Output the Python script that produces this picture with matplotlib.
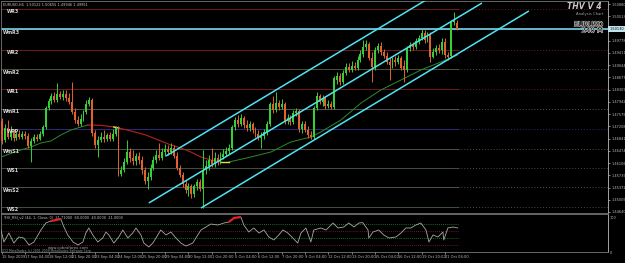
import matplotlib
matplotlib.use("Agg")
import matplotlib.pyplot as plt
import matplotlib.patheffects as pe
import numpy as np

# ---------------- data (EURUSD H4) ----------------
opens = [1.4737, 1.4680, 1.4716, 1.4689, 1.4704, 1.4686, 1.4698, 1.4689, 1.4698, 1.4692,
         1.4662, 1.4677, 1.4689, 1.4683, 1.4698, 1.4719, 1.4776, 1.4797, 1.4812, 1.4800,
         1.4818, 1.4809, 1.4818, 1.4806, 1.4794, 1.4764, 1.4740, 1.4728, 1.4743, 1.4764,
         1.4788, 1.4800, 1.4701, 1.4665, 1.4680, 1.4689, 1.4683, 1.4695, 1.4683, 1.4698,
         1.4716, 1.4578, 1.4590, 1.4614, 1.4644, 1.4626, 1.4617, 1.4632, 1.4620, 1.4590,
         1.4557, 1.4569, 1.4596, 1.4620, 1.4635, 1.4626, 1.4644, 1.4653, 1.4644, 1.4656,
         1.4632, 1.4596, 1.4575, 1.4548, 1.4530, 1.4542, 1.4518, 1.4542, 1.4554, 1.4533,
         1.4590, 1.4602, 1.4620, 1.4608, 1.4626, 1.4614, 1.4629, 1.4638, 1.4647, 1.4656,
         1.4719, 1.4740, 1.4728, 1.4746, 1.4725, 1.4716, 1.4728, 1.4710, 1.4698, 1.4686,
         1.4692, 1.4704, 1.4728, 1.4788, 1.4770, 1.4791, 1.4779, 1.4788, 1.4737, 1.4746,
         1.4734, 1.4761, 1.4767, 1.4713, 1.4728, 1.4710, 1.4695, 1.4689, 1.4776, 1.4812,
         1.4794, 1.4806, 1.4782, 1.4788, 1.4779, 1.4860, 1.4872, 1.4854, 1.4881, 1.4899,
         1.4890, 1.4902, 1.4896, 1.4920, 1.4938, 1.4959, 1.4968, 1.4926, 1.4899, 1.4950,
         1.4962, 1.4944, 1.4932, 1.4914, 1.4905, 1.4920, 1.4914, 1.4926, 1.4902, 1.4890,
         1.4956, 1.4965, 1.4959, 1.4977, 1.4986, 1.5001, 1.4980, 1.4995, 1.4929, 1.4944,
         1.4956, 1.4950, 1.4974, 1.4935, 1.4932, 1.5034, 1.5031]
closes = [1.4677, 1.4716, 1.4689, 1.4704, 1.4686, 1.4698, 1.4689, 1.4698, 1.4692, 1.4662,
          1.4677, 1.4689, 1.4683, 1.4698, 1.4719, 1.4776, 1.4797, 1.4812, 1.4800, 1.4818,
          1.4809, 1.4818, 1.4806, 1.4794, 1.4764, 1.4740, 1.4728, 1.4743, 1.4764, 1.4788,
          1.4800, 1.4701, 1.4665, 1.4680, 1.4689, 1.4683, 1.4695, 1.4683, 1.4698, 1.4716,
          1.4578, 1.4590, 1.4614, 1.4644, 1.4626, 1.4617, 1.4632, 1.4620, 1.4590, 1.4557,
          1.4569, 1.4596, 1.4620, 1.4635, 1.4626, 1.4644, 1.4653, 1.4644, 1.4656, 1.4632,
          1.4596, 1.4575, 1.4548, 1.4530, 1.4542, 1.4518, 1.4542, 1.4554, 1.4533, 1.4590,
          1.4602, 1.4620, 1.4608, 1.4626, 1.4614, 1.4629, 1.4638, 1.4647, 1.4656, 1.4719,
          1.4740, 1.4728, 1.4746, 1.4725, 1.4716, 1.4728, 1.4710, 1.4698, 1.4686, 1.4692,
          1.4704, 1.4728, 1.4788, 1.4770, 1.4791, 1.4779, 1.4788, 1.4737, 1.4746, 1.4734,
          1.4761, 1.4767, 1.4713, 1.4728, 1.4710, 1.4695, 1.4689, 1.4776, 1.4812, 1.4794,
          1.4806, 1.4782, 1.4788, 1.4779, 1.4866, 1.4872, 1.4854, 1.4881, 1.4899, 1.4890,
          1.4902, 1.4896, 1.4920, 1.4938, 1.4959, 1.4968, 1.4926, 1.4899, 1.4950, 1.4962,
          1.4944, 1.4932, 1.4914, 1.4905, 1.4920, 1.4914, 1.4926, 1.4896, 1.4890, 1.4956,
          1.4965, 1.4959, 1.4977, 1.4986, 1.5001, 1.4980, 1.4995, 1.4929, 1.4944, 1.4956,
          1.4950, 1.4974, 1.4935, 1.4929, 1.5034, 1.5040, 1.5013]
highs = [1.4746, 1.4728, 1.4740, 1.4722, 1.4713, 1.4707, 1.4710, 1.4707, 1.4707, 1.4701,
         1.4686, 1.4698, 1.4698, 1.4707, 1.4725, 1.4782, 1.4806, 1.4821, 1.4824, 1.4851,
         1.4827, 1.4830, 1.4830, 1.4821, 1.4854, 1.4776, 1.4752, 1.4758, 1.4770, 1.4800,
         1.4809, 1.4806, 1.4710, 1.4692, 1.4704, 1.4710, 1.4701, 1.4704, 1.4713, 1.4722,
         1.4722, 1.4602, 1.4626, 1.4680, 1.4656, 1.4650, 1.4641, 1.4644, 1.4632, 1.4599,
         1.4584, 1.4608, 1.4632, 1.4650, 1.4671, 1.4656, 1.4668, 1.4665, 1.4671, 1.4665,
         1.4644, 1.4605, 1.4584, 1.4560, 1.4551, 1.4548, 1.4548, 1.4563, 1.4563, 1.4650,
         1.4620, 1.4635, 1.4656, 1.4644, 1.4638, 1.4644, 1.4653, 1.4659, 1.4668, 1.4725,
         1.4749, 1.4755, 1.4758, 1.4752, 1.4740, 1.4737, 1.4734, 1.4719, 1.4710, 1.4704,
         1.4713, 1.4737, 1.4794, 1.4812, 1.4824, 1.4800, 1.4803, 1.4794, 1.4758, 1.4755,
         1.4770, 1.4776, 1.4773, 1.4737, 1.4737, 1.4722, 1.4707, 1.4782, 1.4824, 1.4818,
         1.4815, 1.4812, 1.4800, 1.4797, 1.4872, 1.4884, 1.4881, 1.4890, 1.4911, 1.4911,
         1.4917, 1.4914, 1.4932, 1.4950, 1.4980, 1.4980, 1.4974, 1.4944, 1.4959, 1.4971,
         1.4974, 1.4953, 1.4944, 1.4926, 1.4929, 1.4932, 1.4935, 1.4932, 1.4920, 1.4962,
         1.4974, 1.4974, 1.4986, 1.4995, 1.5016, 1.5010, 1.5004, 1.5004, 1.4956, 1.4965,
         1.4968, 1.4986, 1.4986, 1.4944, 1.5040, 1.5064, 1.5040]
lows = [1.4668, 1.4674, 1.4683, 1.4680, 1.4677, 1.4680, 1.4683, 1.4683, 1.4683, 1.4656,
        1.4614, 1.4671, 1.4677, 1.4680, 1.4692, 1.4713, 1.4770, 1.4788, 1.4794, 1.4794,
        1.4803, 1.4800, 1.4797, 1.4788, 1.4758, 1.4731, 1.4722, 1.4722, 1.4737, 1.4758,
        1.4782, 1.4692, 1.4656, 1.4629, 1.4674, 1.4674, 1.4677, 1.4677, 1.4677, 1.4692,
        1.4572, 1.4572, 1.4584, 1.4608, 1.4614, 1.4605, 1.4605, 1.4608, 1.4578, 1.4548,
        1.4533, 1.4560, 1.4590, 1.4611, 1.4620, 1.4620, 1.4632, 1.4635, 1.4638, 1.4626,
        1.4590, 1.4569, 1.4539, 1.4521, 1.4512, 1.4506, 1.4509, 1.4530, 1.4527, 1.4476,
        1.4578, 1.4590, 1.4599, 1.4599, 1.4605, 1.4608, 1.4623, 1.4632, 1.4638, 1.4650,
        1.4710, 1.4719, 1.4722, 1.4716, 1.4707, 1.4707, 1.4701, 1.4689, 1.4680, 1.4656,
        1.4683, 1.4695, 1.4722, 1.4761, 1.4764, 1.4770, 1.4773, 1.4728, 1.4728, 1.4725,
        1.4728, 1.4752, 1.4704, 1.4701, 1.4704, 1.4686, 1.4683, 1.4683, 1.4770, 1.4788,
        1.4782, 1.4773, 1.4776, 1.4773, 1.4773, 1.4848, 1.4845, 1.4848, 1.4875, 1.4884,
        1.4884, 1.4890, 1.4890, 1.4914, 1.4929, 1.4950, 1.4920, 1.4854, 1.4890, 1.4941,
        1.4935, 1.4926, 1.4908, 1.4860, 1.4896, 1.4902, 1.4908, 1.4890, 1.4854, 1.4884,
        1.4947, 1.4950, 1.4953, 1.4968, 1.4980, 1.4971, 1.4974, 1.4914, 1.4926, 1.4935,
        1.4941, 1.4938, 1.4926, 1.4920, 1.4926, 1.5025, 1.5010]

# weekly pivot levels
level_names = ["WR3", "WmR3", "WR2", "WmR2", "WR1", "WmR1", "WPP", "WmS1", "WS1", "WmS2", "WS2"]
level_values = [1.5073, 1.50115, 1.4950, 1.48915, 1.4833, 1.4773, 1.4713, 1.46545, 1.4596, 1.45375, 1.4479]

# colour-changing moving average (bar position, price)
ma_up1_bar = [-0.3, 6.5, 9.9, 13.4, 16.8, 20.2, 23.7, 27.1, 29.5]
ma_up1_val = [1.4629, 1.4650, 1.4659, 1.4671, 1.4677, 1.4695, 1.4710, 1.4719, 1.4725]
ma_dn_bar = [29.5, 34.0, 38.4, 40.1, 44.3, 49.4, 54.5, 58.0, 61.4, 64.8, 68.3, 71.7, 75.1]
ma_dn_val = [1.4725, 1.4724, 1.4719, 1.4716, 1.4707, 1.4695, 1.4677, 1.4665, 1.4656, 1.4644, 1.4629, 1.4620, 1.4614]
ma_turn_bar = [[38.4, 40.1], [75.1, 77.9]]
ma_turn_val = [[1.4719, 1.4716], [1.4614, 1.4614]]
ma_up2_bar = [77.9, 85.4, 92.3, 99.1, 106.0, 109.4, 116.3, 123.2, 130.0, 136.9, 143.7, 150.6, 156.4]
ma_up2_val = [1.4614, 1.4629, 1.4644, 1.4674, 1.4689, 1.4704, 1.4740, 1.4791, 1.4830, 1.4860, 1.4890, 1.4914, 1.4935]

# trend channel (start bar, end bar), (start price, end price)
channel_bars = [[56.3, 145.5], [50.4, 164.7], [68.3, 180.8]]
channel_vals = [[1.4632, 1.5100], [1.4491, 1.5091], [1.4476, 1.5067]]

# RSI sub-window
rsi_bar = [-0.3, 0.7, 2.4, 4.1, 5.8, 7.5, 9.3, 11.0, 13.4, 15.1,
           16.8, 20.2, 21.3, 22.6, 24.4, 26.1, 27.8, 28.8, 29.8, 31.2,
           32.9, 34.6, 35.7, 36.7, 38.4, 40.1, 41.5, 43.2, 44.9, 46.0,
           47.7, 48.7, 50.4, 51.8, 53.5, 54.5, 56.3, 58.0, 59.7, 61.4,
           63.1, 65.5, 67.2, 68.3, 70.0, 71.7, 74.1, 76.2, 77.9, 79.6,
           82.0, 83.0, 84.7, 86.4, 88.2, 89.9, 91.6, 93.3, 95.0, 96.4,
           98.1, 99.8, 101.5, 102.6, 104.3, 106.0, 107.0, 109.4, 111.2, 113.6,
           115.3, 117.3, 119.0, 120.8, 122.5, 123.8, 125.6, 125.9, 127.3, 129.3,
           131.0, 132.8, 135.2, 136.9, 138.6, 140.3, 142.0, 143.7, 145.5, 146.5,
           147.9, 149.6, 151.3, 151.6, 153.0, 154.7, 156.4]
rsi_val = [62.9, 28.6, 54.3, 25.7, 42.9, 40.0, 20.0, 28.6, 62.9, 82.9,
           88.6, 94.3, 71.4, 48.6, 28.6, 20.0, 28.6, 54.3, 68.6, 48.6,
           28.6, 40.0, 57.1, 48.6, 25.7, 42.9, 62.9, 40.0, 54.3, 68.6,
           48.6, 25.7, 14.3, 25.7, 48.6, 62.9, 48.6, 57.1, 40.0, 25.7,
           17.1, 25.7, 48.6, 62.9, 71.4, 80.0, 77.1, 82.9, 85.7, 97.1,
           100.0, 77.1, 57.1, 68.6, 54.3, 62.9, 42.9, 34.3, 48.6, 62.9,
           54.3, 40.0, 25.7, 54.3, 68.6, 28.6, 62.9, 68.6, 62.9, 82.9,
           68.6, 71.4, 82.9, 71.4, 82.9, 84.0, 62.9, 40.0, 57.1, 62.9,
           48.6, 40.0, 42.9, 54.3, 68.6, 68.6, 77.1, 82.9, 62.9, 28.6,
           48.6, 42.9, 57.1, 34.3, 68.6, 71.4, 68.6]
rsi_levels = [80, 60, 40, 20]
rsi_hot = 85

price_ticks = [1.50880, 1.50513, 1.49778, 1.49411, 1.49044, 1.48677, 1.48309, 1.47942,
               1.47575, 1.47208, 1.46841, 1.46474, 1.46106, 1.45739, 1.45372, 1.45005, 1.44640]
date_bars = [0, 8, 16, 24, 32, 40, 48, 56, 64, 72, 80, 88, 96, 104, 112, 120, 128, 136, 144, 152]
date_labels = ["15 Sep 2009", "17 Sep 04:00", "18 Sep 12:00", "21 Sep 20:00", "23 Sep 04:00",
               "24 Sep 12:00", "25 Sep 20:00", "29 Sep 04:00", "30 Sep 12:00", "1 Oct 20:00",
               "5 Oct 04:00", "6 Oct 12:00", "7 Oct 20:00", "9 Oct 04:00", "12 Oct 12:00",
               "13 Oct 20:00", "15 Oct 04:00", "16 Oct 12:00", "19 Oct 20:00", "21 Oct 04:00"]

# ---------------- styles ----------------
BG = "black"
GREEN = "#36d036"
RED = "#e2622c"
CYAN = "#4fe3f2"
AXC = "#bcbcbc"
level_colors = ["#6e1c1c", "#55606a", "#741a1a", "#4d5436", "#741a1a", "#555555",
                "#2c2c7a", "#4c5444", "#3f513f", "#525252", "#3f513f"]

W, H = 625, 263
fig = plt.figure(figsize=(W / 100, H / 100), dpi=100, facecolor=BG)


def box(x0, y0, x1, y1):
    return [x0 / W, 1 - y1 / H, (x1 - x0) / W, (y1 - y0) / H]


ax = fig.add_axes(box(1, 1, 608, 213))
axi = fig.add_axes(box(1, 214, 608, 252))
XMIN = -0.3
XMAX = XMIN + 607 / 2.915
n = len(closes)
idx = np.arange(n)
last = n - 0.5

for a in (ax, axi):
    a.set_facecolor(BG)
    a.set_xlim(XMIN, XMAX)
    for s in a.spines.values():
        s.set_color("#777777")
        s.set_linewidth(0.6)
    a.spines["right"].set_color(AXC)
ax.set_ylim(1.4461, 1.5097)
axi.set_ylim(0, 108.6)

# pivot levels
for name, v, colr in zip(level_names, level_values, level_colors):
    ax.plot([XMIN, last], [v, v], color=colr, lw=0.7, zorder=1)
    ax.plot([last, XMAX], [v, v], color=colr, lw=0.7, ls=(0, (1, 2)), zorder=1)
    xoff = 0.0038 if name.startswith("Wm") else 0.0099
    ax.text(xoff, v - 0.0009, name, transform=ax.get_yaxis_transform(), fontsize=3.4,
            fontweight="bold", color="#d8d8d8", va="center", ha="left", zorder=8)

# current price line
ax.axhline(closes[-1], color="#6cc6d6", lw=1.3, zorder=2)

# moving average
ax.plot(ma_up1_bar, ma_up1_val, color="#2d8a2d", lw=0.7, zorder=3)
ax.plot(ma_dn_bar, ma_dn_val, color="#b82222", lw=0.8, zorder=3)
ax.plot(ma_up2_bar, ma_up2_val, color="#2d8a2d", lw=0.7, zorder=3)
for xb, yv in zip(ma_turn_bar, ma_turn_val):
    ax.plot(xb, yv, color="#e6e040", lw=1.0, zorder=3)

# candles
o = np.array(opens); c = np.array(closes); h = np.array(highs); l = np.array(lows)
up = c >= o
cols = np.where(up, GREEN, RED)
ax.vlines(idx, l, h, colors=cols, linewidth=0.7, zorder=4)
ax.bar(idx, np.maximum(np.abs(c - o), 0.00012), bottom=np.minimum(o, c), width=0.66,
       color=cols, linewidth=0, zorder=5)

# channel
for xb, yv in zip(channel_bars, channel_vals):
    ax.plot(xb, yv, color=CYAN, lw=1.1, zorder=6, solid_capstyle="butt")

# price axis
ax.yaxis.tick_right()
ax.set_yticks(price_ticks)
ax.set_yticklabels([f"{v:.5f}" for v in price_ticks])
ax.tick_params(axis="y", colors=AXC, labelsize=2.5, length=1.5, width=0.5, pad=1.0)
ax.tick_params(axis="x", bottom=False, labelbottom=False)
ax.text(1.002, closes[-1], f"{closes[-1]:.5f}", transform=ax.get_yaxis_transform(),
        fontsize=2.5, color="black", va="center", ha="left", clip_on=False, zorder=10,
        bbox=dict(boxstyle="square,pad=0.25", fc="#bfe4ec", ec="none"))

# RSI window
for lv, colr in zip(rsi_levels, ["#2f8a2f", "#8a2222", "#2f8a2f", "#8a2222"]):
    axi.plot([XMIN, last], [lv, lv], color=colr, lw=0.6, ls=(0, (1, 1.5)), zorder=1)
axi.plot(rsi_bar, rsi_val, color="#a8a8a8", lw=0.6, zorder=3)
rb = np.array(rsi_bar); rv = np.array(rsi_val)
hot = rv >= rsi_hot
start = None
for i in range(len(rv) + 1):
    if i < len(rv) and hot[i]:
        if start is None:
            start = i
    else:
        if start is not None and i - start >= 2:
            axi.plot(rb[start:i], rv[start:i], color="#e02424", lw=1.6, zorder=4,
                     solid_capstyle="butt")
        start = None
axi.yaxis.tick_right()
axi.set_yticks([0, 100])
axi.set_yticklabels(["0", "100"])
axi.tick_params(axis="y", colors=AXC, labelsize=2.5, length=0, pad=1.5)
axi.set_xticks(date_bars)
axi.set_xticklabels(date_labels, ha="left")
axi.tick_params(axis="x", colors=AXC, labelsize=2.6, length=1.5, width=0.5, pad=1.0)
axi.text(0.004, 0.96, "THV_RSI_v2 (44, 1, Close, 0)  21.71000  60.0000  40.0000  21.0000",
         transform=axi.transAxes, fontsize=2.5, color="#c4c4c4", va="top", ha="left")

# texts
fig.text(3 / W, 1 - 4.5 / H, "EURUSD,H4  1.50122 1.50655 1.49946 1.49951", fontsize=2.5,
         color="#c8c8c8", va="center", ha="left")
fig.text(602 / W, 1 - 6.5 / H, "THV V 4", fontsize=5.6, style="italic", fontweight="bold",
         color="#c4c4c4", va="center", ha="right")
fig.text(603 / W, 1 - 14.5 / H, "Analysis Chart", fontsize=2.7, color="#a0a0a0",
         va="center", ha="right")
fig.text(603 / W, 1 - 24.5 / H, "EURUSD", fontsize=5.0, color="black", va="center", ha="right",
         path_effects=[pe.withStroke(linewidth=0.8, foreground="#c8c8c8")])
fig.text(603 / W, 1 - 30.5 / H, "240 M", fontsize=5.0, color="black", va="center", ha="right",
         path_effects=[pe.withStroke(linewidth=0.8, foreground="#c8c8c8")])
fig.text(48 / W, 1 - 248 / H, "www.cobraforex.com", fontsize=2.8, color="#a8a8a8",
         va="center", ha="left")
fig.text(2 / W, 1 - 251 / H, "(C)2 MetaTrader, (c) 2001-2009 MetaQuotes Software Corp.",
         fontsize=2.2, color="#9a9a9a", va="center", ha="left")

fig.savefig("out.png", dpi=100, facecolor=BG)
